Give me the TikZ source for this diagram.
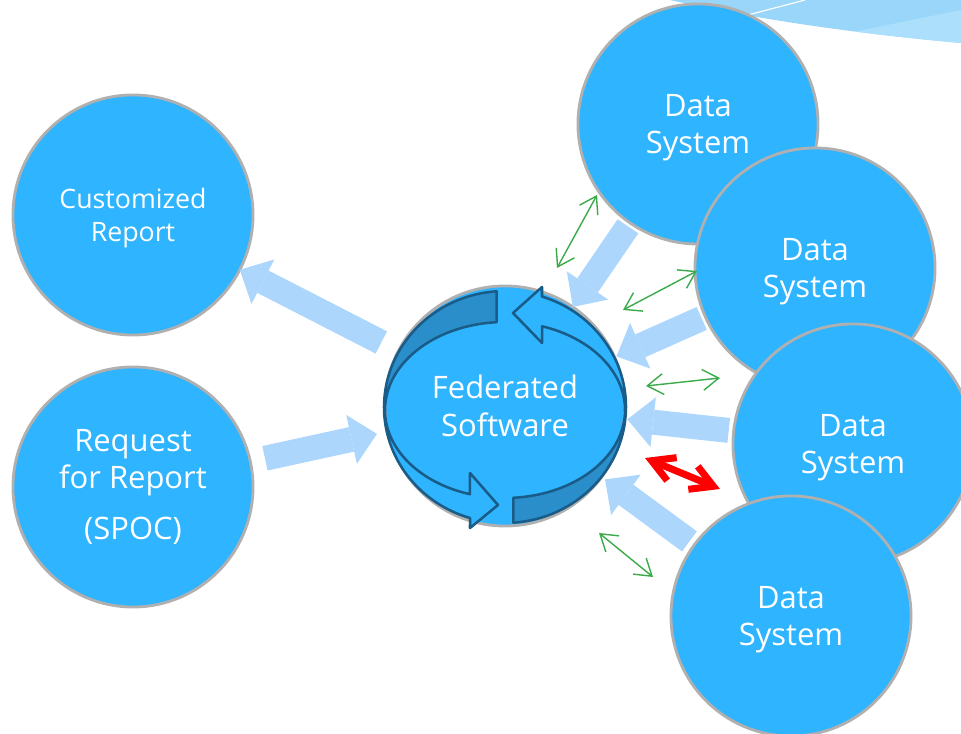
\documentclass[tikz,border=0pt]{standalone}
\usepackage{fontspec}
\setmainfont{Open Sans}
\usetikzlibrary{arrows.meta}

\definecolor{circblue}{RGB}{47,180,255}
\definecolor{rimgrey}{RGB}{176,176,176}
\definecolor{fatblue}{RGB}{173,214,253}
\definecolor{ringdark}{RGB}{42,142,203}
\definecolor{ringline}{RGB}{26,92,136}
\definecolor{linkgreen}{RGB}{58,170,74}
\definecolor{swoosh}{RGB}{153,214,249}
\definecolor{swooshlight}{RGB}{172,223,251}

\begin{document}
\begin{tikzpicture}[x=0.025cm, y=0.025cm,
        sys/.style={circle, fill=circblue, draw=rimgrey, line width=2pt,
            minimum size=6cm, inner sep=0pt, outer sep=0pt, text=white,
            align=center, font=\fontsize{22}{26.5}\selectfont},
        fat/.style={draw=fatblue, line width=0.625cm,
            -{Triangle[length=0.65cm,width=1.25cm,line width=0pt]}},
        link/.style={draw=linkgreen, line width=1pt,
            {Straight Barb[length=0.4cm,width=0.52cm]}-{Straight Barb[length=0.4cm,width=0.52cm]}},
        hot/.style={draw=red, line width=5pt,
            {Straight Barb[length=0.55cm,width=0.62cm]}-{Straight Barb[length=0.55cm,width=0.62cm]}},
        ring/.style={draw=ringline, line width=1.8pt, line join=round}]
    \useasboundingbox (0,0) rectangle (961,734);

% swoosh at the top
\begin{scope}
    \clip (670,734) .. controls (760,714) and (860,700) .. (961,691) -- (961,734) -- cycle;
    \fill[swoosh] (600,680) rectangle (961,734);
    \fill[swooshlight] (840,699.4) -- (961,724) -- (961,680) -- (840,680) -- cycle;
\end{scope}
\draw[white, line width=0.8pt] (748,719) -- (805,734);

\node[sys, text depth=0pt, font=\fontsize{19}{23.5}\selectfont] (cr) at (133,519) {Customized\\Report};
\node[sys] (req) at (133,247) {Request\\for Report\\[10pt](SPOC)};
\node[sys, text depth=0pt] (ds1) at (698,610) {Data\\System};
\node[sys, text depth=0pt] (ds2) at (815,466) {Data\\System};
\node[sys, text depth=0pt] (ds3) at (853,290) {Data\\System};
\node[sys, text depth=0pt] (ds4) at (791,118) {Data\\System};
\node[sys] (fed) at (505,328) {Federated\\Software};

% cycle ring
\filldraw[ring, fill=ringdark] (496.6,442.7) arc[start angle=94, end angle=180, x radius=121, y radius=116]
    -- (385,324) arc[start angle=180, end angle=94, x radius=120, y radius=88] -- cycle;
\filldraw[ring, fill=ringdark] (513.4,211.3) arc[start angle=274, end angle=360, x radius=121, y radius=116]
    -- (625,324) arc[start angle=360, end angle=274, x radius=120, y radius=88] -- cycle;
\filldraw[ring, fill=circblue] (626,327) arc[start angle=0, end angle=72.2, x radius=121, y radius=116]
    -- (542,447) -- (513,421) -- (542,391) -- (542.1,407.7)
    arc[start angle=72, end angle=0, x radius=120, y radius=88] -- cycle;
\filldraw[ring, fill=circblue] (384,327) arc[start angle=180, end angle=253.2, x radius=121, y radius=116]
    -- (470,206) -- (498,229) -- (470,261) -- (469.9,239.8)
    arc[start angle=253, end angle=180, x radius=120, y radius=88] -- cycle;

\draw[fat, shorten <=0.475cm] (fed) -- (cr);
\draw[fat, shorten <=0.375cm, shorten >=0.275cm] (req) -- (fed);
\draw[fat, shorten <=0.1cm] (ds1) -- (fed);
\draw[fat, shorten <=0.1cm, shorten >=0.05cm] (ds2) -- (fed);
\draw[fat, shorten <=0.125cm, shorten >=0.075cm] (ds3) -- (fed);
\draw[fat, shorten <=0.15cm, shorten >=0.1cm] (ds4) -- (fed);

\coordinate (g1a) at (597,539); \coordinate (g1b) at (557,466);
\coordinate (g2a) at (697,463); \coordinate (g2b) at (623,424);
\coordinate (g3a) at (646,348); \coordinate (g3b) at (720,356);
\coordinate (g4a) at (599,201); \coordinate (g4b) at (653,157);
\coordinate (ra) at (645,276);  \coordinate (rb) at (720,245);
\draw[link] (g1a) -- (g1b);
\draw[link] (g2a) -- (g2b);
\draw[link] (g3a) -- (g3b);
\draw[link] (g4a) -- (g4b);
\draw[hot] (ra) -- (rb);
\end{tikzpicture}
\end{document}
